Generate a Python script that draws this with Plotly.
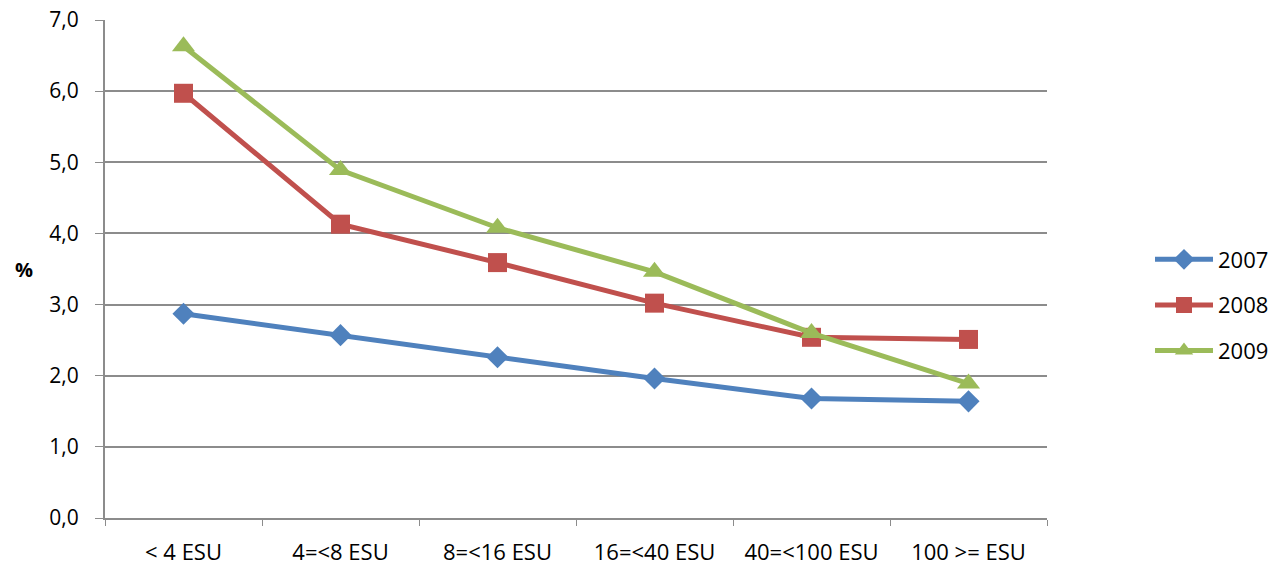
import plotly.graph_objects as go

categories = ["< 4 ESU", "4=<8 ESU", "8=<16 ESU", "16=<40 ESU", "40=<100 ESU", "100 >= ESU"]
values_2007 = [2.87, 2.57, 2.26, 1.96, 1.68, 1.64]
values_2008 = [5.97, 4.13, 3.59, 3.02, 2.54, 2.51]
values_2009 = [6.63, 4.89, 4.08, 3.46, 2.60, 1.89]
y_ticks = [0, 1, 2, 3, 4, 5, 6, 7]

series = [
    ("2007", values_2007, "#4F81BD", "diamond", 17),
    ("2008", values_2008, "#C0504D", "square", 19),
    ("2009", values_2009, "#9BBB59", "triangle-up", 20),
]

fig = go.Figure()
for name, vals, color, symbol, size in series:
    fig.add_trace(go.Scatter(
        x=categories, y=vals, name=name, mode="lines+markers",
        legendgroup=name,
        line=dict(color=color, width=5),
        marker=dict(symbol=symbol, size=size, color=color),
    ))

font_family = "'Open Sans', sans-serif"
grid_color = "#8C8C8C"

left, right, top, bottom = 105, 229, 20, 48
plot_w = 1276 - left - right
plot_h = 566 - top - bottom

fig.update_layout(
    width=1276, height=566,
    margin=dict(l=left, r=right, t=top, b=bottom, autoexpand=False),
    paper_bgcolor="white", plot_bgcolor="white",
    separators=",.",
    font=dict(family=font_family, size=21, color="black"),
    showlegend=True,
    legend=dict(x=(1150 - left) / plot_w, y=(566 - bottom - 305) / plot_h,
                xanchor="left", yanchor="middle",
                font=dict(size=22), itemwidth=58, tracegroupgap=14),
    xaxis=dict(
        type="category", tickson="boundaries", ticks="outside", ticklen=6,
        tickcolor=grid_color, showline=True, linecolor=grid_color, linewidth=2,
        showgrid=False, range=[-0.5, 5.5], tickfont=dict(size=22),
        ticklabelstandoff=14, automargin=False,
    ),
    yaxis=dict(
        range=[0, 7], tickvals=y_ticks, tickformat=".1f", ticks="outside",
        ticklen=8, tickcolor=grid_color, showline=True, linecolor=grid_color,
        linewidth=2, showgrid=True, gridcolor=grid_color, gridwidth=1.5,
        zeroline=False, tickfont=dict(size=21), ticklabelstandoff=12,
        automargin=False,
    ),
    annotations=[dict(
        text="<b>%</b>", xref="paper", yref="paper",
        x=(24 - left) / plot_w, y=(566 - bottom - 269) / plot_h,
        xanchor="center", yanchor="middle",
        showarrow=False, font=dict(size=20),
    )],
)

fig.write_html("out.html")
